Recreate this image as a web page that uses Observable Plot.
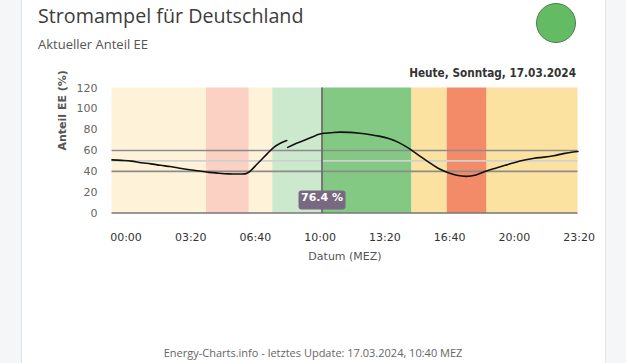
<!DOCTYPE html>
<html><head><meta charset="utf-8">
<script src="https://cdn.jsdelivr.net/npm/d3@7"></script>
<script src="https://cdn.jsdelivr.net/npm/@observablehq/plot@0.6"></script>
<style>
html,body{margin:0;padding:0;width:626px;height:363px;overflow:hidden;background:#f5f6f8;}
#card{position:absolute;left:21px;top:-2px;width:585px;height:370px;background:#fff;border:1px solid #e4e4e7;box-sizing:border-box;}
#title{position:absolute;left:38px;top:2px;font:19.7px "Open Sans";color:#3c3c3c;white-space:nowrap;}
#subtitle{position:absolute;left:38px;top:35px;font:13px "Open Sans";color:#555;white-space:nowrap;}
#lamp{position:absolute;left:536px;top:3px;width:40px;height:40px;border-radius:50%;background:#63bb63;border:1px solid #4f7f4f;box-sizing:border-box;}
#date{position:absolute;right:50px;top:66px;font:bold 11.7px "DejaVu Sans Condensed";color:#333;white-space:nowrap;}
#chart{position:absolute;left:0;top:60px;}
#footer{position:absolute;left:0;width:626px;top:345px;text-align:center;font:11px "Open Sans";color:#666;white-space:nowrap;}
</style></head><body>
<div id="card"></div>
<div id="title">Stromampel für Deutschland</div>
<div id="subtitle">Aktueller Anteil EE</div>
<div id="lamp"></div>
<div id="date">Heute, Sonntag, 17.03.2024</div>
<div id="chart"></div>
<div id="footer">Energy-Charts.info - letztes Update: 17.03.2024, 10:40 MEZ</div>
<script>
// ---- data ----
const xTicks = ["00:00","03:20","06:40","10:00","13:20","16:40","20:00","23:20"];
const yTicks = [0,20,40,60,80,100,120];
const bandStart = ["00:00","04:52","07:04","08:17","15:27","17:16","19:19"];
const bandEnd   = ["04:52","07:04","08:17","15:27","17:16","19:19","24:00"];
const bandLevel = ["gelb","rot","gelb","grün","gelb","rot","gelb"];
const levelColors = {"gelb":"#fce2a0","rot":"#f48b68","grün":"#83c883"};
const nowTime = "10:49";
const nowValue = 76.4;
const refDark = [40, 60];
const refLight = [50];
const seg1Times = ["00:00","00:30","01:00","01:30","02:00","02:30","03:00","03:30","04:00","04:30","05:00","05:30","06:00","06:30","06:50","07:00","07:30","08:00","08:20","08:40","09:00"];
const seg1Values = [51,50.5,49.8,48.3,47.2,45.8,44.6,43,41.5,40.3,39,38.2,37.6,37.4,37.6,38.7,47.5,57,63,67,69.6];
const seg2Times = ["09:03","09:30","10:00","10:30","10:49","11:15","11:45","12:15","12:45","13:15","13:45","14:15","14:45","15:15","15:45","16:15","16:45","17:15","17:45","18:15","18:45","19:15","19:45","20:15","20:45","21:15","21:45","22:15","22:45","23:15","23:45","24:00"];
const seg2Values = [63,67,70.5,74.5,76.4,77,77.6,77.4,76.6,75.4,73.8,71.5,67.8,62.5,56,49.5,43.5,39.2,36.3,35.2,36.5,40,43,45.8,48.5,50.8,52.6,53.6,55,57,58.5,59];

// ---- build ----
const toMin = s => { const [h,m] = s.split(":").map(Number); return h*60+m; };
const now = toMin(nowTime);
const pastRects = [], futureRects = [];
bandStart.forEach((s,i) => {
  const a = toMin(s), b = toMin(bandEnd[i]), c = levelColors[bandLevel[i]];
  if (b <= now) pastRects.push({x1:a,x2:b,c});
  else if (a >= now) futureRects.push({x1:a,x2:b,c});
  else { pastRects.push({x1:a,x2:now,c}); futureRects.push({x1:now,x2:b,c}); }
});
const curve = [
  ...seg1Times.map((t,i)=>({t:toMin(t), v:seg1Values[i], seg:1})),
  ...seg2Times.map((t,i)=>({t:toMin(t), v:seg2Values[i], seg:2}))
];
const xTickVals = xTicks.map(toMin);
const fmt = d => xTicks[xTickVals.indexOf(d)];
const labelText = nowValue.toFixed(1) + " %";
const labelDy = -12.5;
const chartHeight = 210, marginBottom = 57.5;

const chart = Plot.plot({
  width: 626, height: chartHeight,
  marginLeft: 111.5, marginRight: 48.5, marginTop: 27.5, marginBottom: marginBottom,
  x: {domain: [0, 1440]},
  y: {domain: [0, 120]},
  color: {type: "identity"},
  style: {fontFamily: "DejaVu Sans", fontSize: "11px", color: "#666", background: "transparent"},
  marks: [
    Plot.rect(pastRects, {x1:"x1", x2:"x2", y1:0, y2:120, fill:"c", fillOpacity:0.4}),
    Plot.rect(futureRects, {x1:"x1", x2:"x2", y1:0, y2:120, fill:"c"}),
    Plot.ruleY(refLight, {stroke:"#d0d0d0", strokeWidth:1.6}),
    Plot.ruleY(refDark, {stroke:"#8c8c8c", strokeWidth:1.6}),
    Plot.ruleX([now], {y1:0, y2:120, stroke:"#6e6e6e", strokeWidth:1.8}),
    Plot.line(curve, {x:"t", y:"v", z:"seg", stroke:"#111", strokeWidth:1.6, curve:"monotone-x"}),
    Plot.ruleY([0], {stroke:"#333", strokeWidth:1}),
    Plot.axisY(yTicks, {tickSize:0, tickPadding:14.5, label:null, fill:"#666"}),
    Plot.axisX(xTickVals, {tickSize:0, tickPadding:20.5, dx:14, tickFormat:fmt, label:null, fill:"#333"}),
    Plot.text(["Datum (MEZ)"], {frameAnchor:"bottom", dy:46.5, fill:"#555", fontSize:11}),
    Plot.text(["Anteil EE (%)"], {frameAnchor:"left", rotate:-90, dx:-49.5, fill:"#555", fontWeight:"bold", fontSize:11}),
    Plot.text([labelText], {x:()=>now, frameAnchor:"bottom", dy:labelDy, text:d=>d, fill:"white", fontWeight:"bold", fontSize:11})
  ]
});
document.getElementById("chart").appendChild(chart);
const svgBox = chart.getBoundingClientRect();
const lbl = Array.from(chart.querySelectorAll("text")).find(t => t.textContent === labelText);
if (lbl) {
  const bb = lbl.getBoundingClientRect();
  const cy = chartHeight - marginBottom + labelDy;
  const r = document.createElementNS("http://www.w3.org/2000/svg","rect");
  r.setAttribute("x", bb.left - svgBox.left - 2.5); r.setAttribute("width", bb.width + 5);
  r.setAttribute("y", cy - 9.5); r.setAttribute("height", 19);
  r.setAttribute("rx", 3); r.setAttribute("fill", "#786880");
  let g = lbl; while (g.parentNode !== chart) g = g.parentNode;
  chart.insertBefore(r, g);
}
</script>
</body></html>
